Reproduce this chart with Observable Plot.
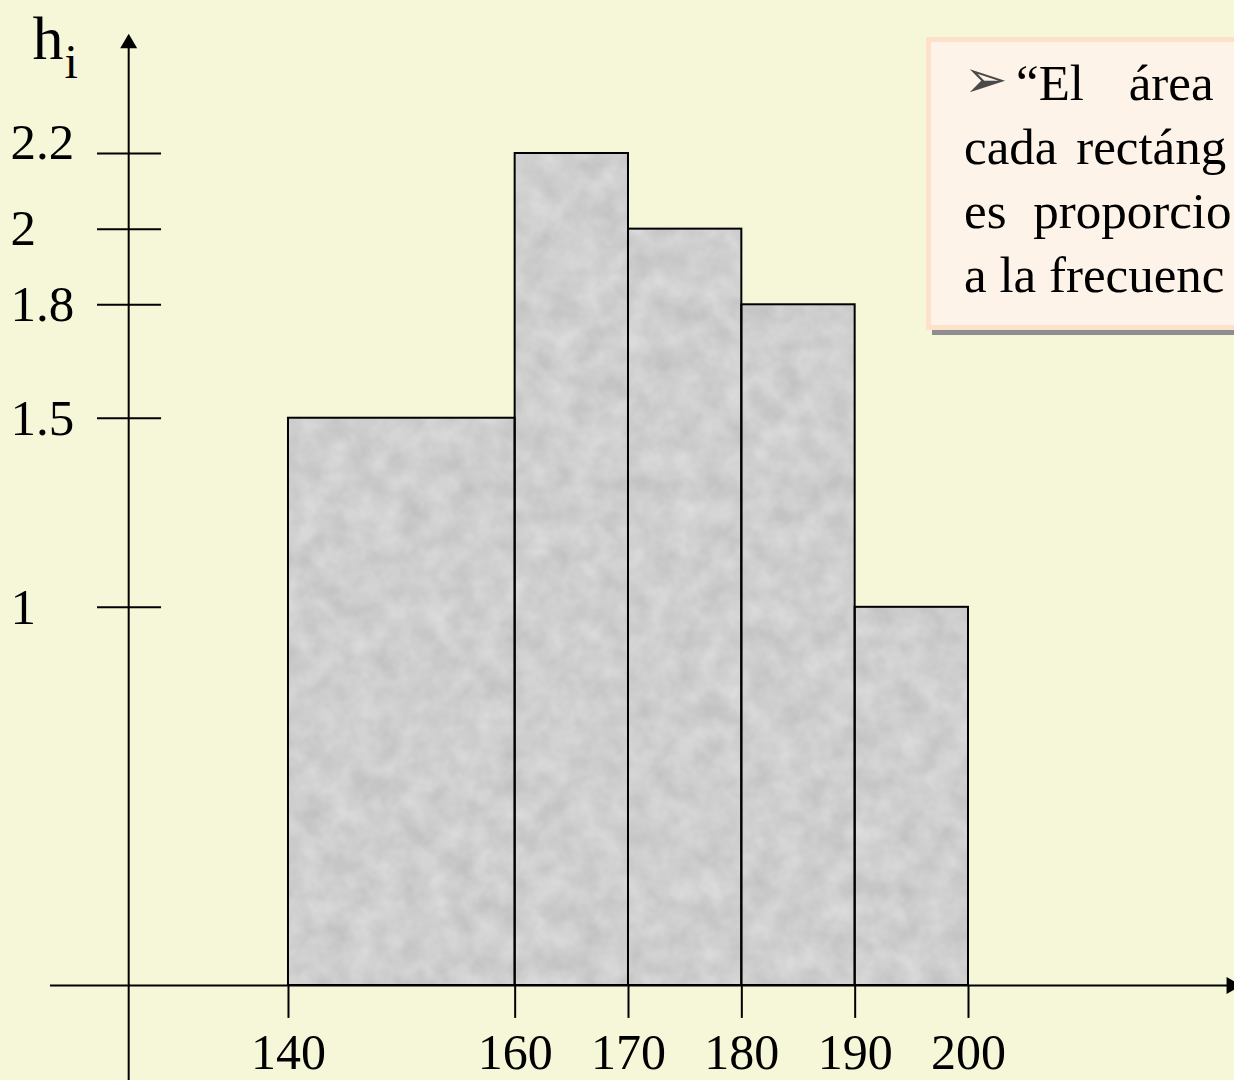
<!DOCTYPE html>
<html>
<head>
<meta charset="utf-8">
<script src="https://cdn.jsdelivr.net/npm/d3@7"></script>
<script src="https://cdn.jsdelivr.net/npm/@observablehq/plot@0.6"></script>
<style>
  html, body { margin: 0; padding: 0; background: #f6f6d8; overflow: hidden; width: 1234px; height: 1080px; }
  #chart { position: absolute; left: 0; top: 0; }
  #note {
    position: absolute; left: 926px; top: 37px; width: 420px; height: 274px;
    background: #fdf3e9; border: 5px solid #fde1c9;
    box-shadow: 6px 5px 0 #8e8e8e;
    font-family: "Liberation Serif", "Times New Roman", serif; font-size: 51px; color: #000;
    padding: 9px 0 0 33px; box-sizing: content-box;
  }
  #note div { line-height: 64px; white-space: pre; }
  #note .bullet { display: inline-block; width: 52px; font-family: "DejaVu Sans", sans-serif; font-size: 52px; line-height: 40px; color: #4a4a4a; position: relative; top: -3px; }
</style>
</head>
<body>
<div id="chart"></div>
<div id="note">
  <div><span class="bullet">➢</span><span style="word-spacing:32px">“El área</span></div>
  <div style="word-spacing:6px">cada rectáng</div>
  <div style="word-spacing:14px">es proporcio</div>
  <div>a la frecuenc</div>
</div>
<script>
// ---- data ----
const binEdges = [140, 160, 170, 180, 190, 200];
const heights = [1.5, 2.2, 2, 1.8, 1];
const xTickValues = [140, 160, 170, 180, 190, 200];
const yTickValues = [1, 1.5, 1.8, 2, 2.2];
const yTickLabels = ["1", "1.5", "1.8", "2", "2.2"];
const yAxisTitle = "h";
const yAxisTitleSub = "i";

// ---- derived table ----
const bins = heights.map((h, i) => ({x1: binEdges[i], x2: binEdges[i + 1], h}));
const yTicks = yTickValues.map((v, i) => ({v, label: yTickLabels[i]}));

// ---- layout (axis geometry in data units) ----
const W = 1234, H = 1080;
const xDomain = [114.59, 223.47];
const yDomain = [-0.2512, 2.6046];
const yAxisX = 125.9;       // where the vertical axis crosses
const xAxisStartX = 119.0;  // left end of horizontal axis
const xAxisEndX = 223.0;
const yAxisTop = 2.478;
const xTickLen = 0.087;
const yTickX1 = 123.15, yTickX2 = 128.8;
const yLabelX = 115.47;
const xLabelY = -0.222;

const font = "Liberation Serif";

const chart = Plot.plot({
  width: W,
  height: H,
  margin: 0,
  x: {domain: xDomain, range: [0, W], axis: null},
  y: {domain: yDomain, range: [H, 0], axis: null},
  style: {background: "transparent", fontFamily: font},
  marks: [
    // bars: textured fill, then outline
    Plot.rect(bins, {x1: "x1", x2: "x2", y1: 0, y2: "h", fill: "#cacaca"}),
    Plot.rect(bins, {x1: "x1", x2: "x2", y1: 0, y2: "h", fill: "none", stroke: "#000", strokeWidth: 2}),
    // horizontal axis
    Plot.ruleY([0], {x1: xAxisStartX, x2: xAxisEndX, stroke: "#000", strokeWidth: 2}),
    Plot.dot([0], {x: xAxisEndX + 0.2, y: 0, symbol: "triangle", r: 6.3, fill: "#000", stroke: null, rotate: 90}),
    // vertical axis
    Plot.ruleX([yAxisX], {y1: yDomain[0], y2: yAxisTop, stroke: "#000", strokeWidth: 2}),
    Plot.dot([0], {x: yAxisX, y: yAxisTop + 0.013, symbol: "triangle", r: 6.3, fill: "#000", stroke: null}),
    // x ticks
    Plot.ruleX(xTickValues, {y1: 0, y2: -xTickLen, stroke: "#000", strokeWidth: 2}),
    // y ticks
    Plot.ruleY(yTickValues, {x1: yTickX1, x2: yTickX2, stroke: "#000", strokeWidth: 2}),
    // x labels
    Plot.text(xTickValues, {x: d => d, y: xLabelY, text: d => String(d), fontSize: 50, lineAnchor: "bottom", textAnchor: "middle", fill: "#000", fontFamily: font}),
    // y labels
    Plot.text(yTicks.filter(d => d.v !== 2.2), {x: yLabelX, y: "v", text: "label", fontSize: 51, textAnchor: "start", lineAnchor: "middle", fill: "#000", fontFamily: font}),
    Plot.text(yTicks.filter(d => d.v === 2.2), {x: yLabelX, y: "v", text: "label", fontSize: 51, textAnchor: "start", lineAnchor: "middle", dy: -11, fill: "#000", fontFamily: font}),
    // axis title h_i
    Plot.text([yAxisTitle], {frameAnchor: "top-left", dx: 32, dy: 58, text: d => d, fontSize: 62, textAnchor: "start", lineAnchor: "bottom", fill: "#000", fontFamily: font}),
    Plot.text([yAxisTitleSub], {frameAnchor: "top-left", dx: 64, dy: 77, text: d => d, fontSize: 48, textAnchor: "start", lineAnchor: "bottom", fill: "#000", fontFamily: font})
  ]
});

// paper-like texture on the bar fills (deterministic SVG noise filter)
const ns = "http://www.w3.org/2000/svg";
const defs = document.createElementNS(ns, "defs");
defs.innerHTML = `
  <filter id="paper" x="0" y="0" width="100%" height="100%" color-interpolation-filters="sRGB">
    <feTurbulence type="fractalNoise" baseFrequency="0.04" numOctaves="3" seed="7" result="n"/>
    <feColorMatrix in="n" type="matrix" values="0.14 0 0 0 0.74  0.14 0 0 0 0.74  0.14 0 0 0 0.74  0 0 0 0 1" result="g"/>
    <feComposite in="g" in2="SourceGraphic" operator="in"/>
  </filter>`;
chart.insertBefore(defs, chart.firstChild);
const rectGroups = chart.querySelectorAll('g[aria-label="rect"]');
if (rectGroups.length) rectGroups[0].setAttribute("filter", "url(#paper)");

document.getElementById("chart").appendChild(chart);
</script>
</body>
</html>
